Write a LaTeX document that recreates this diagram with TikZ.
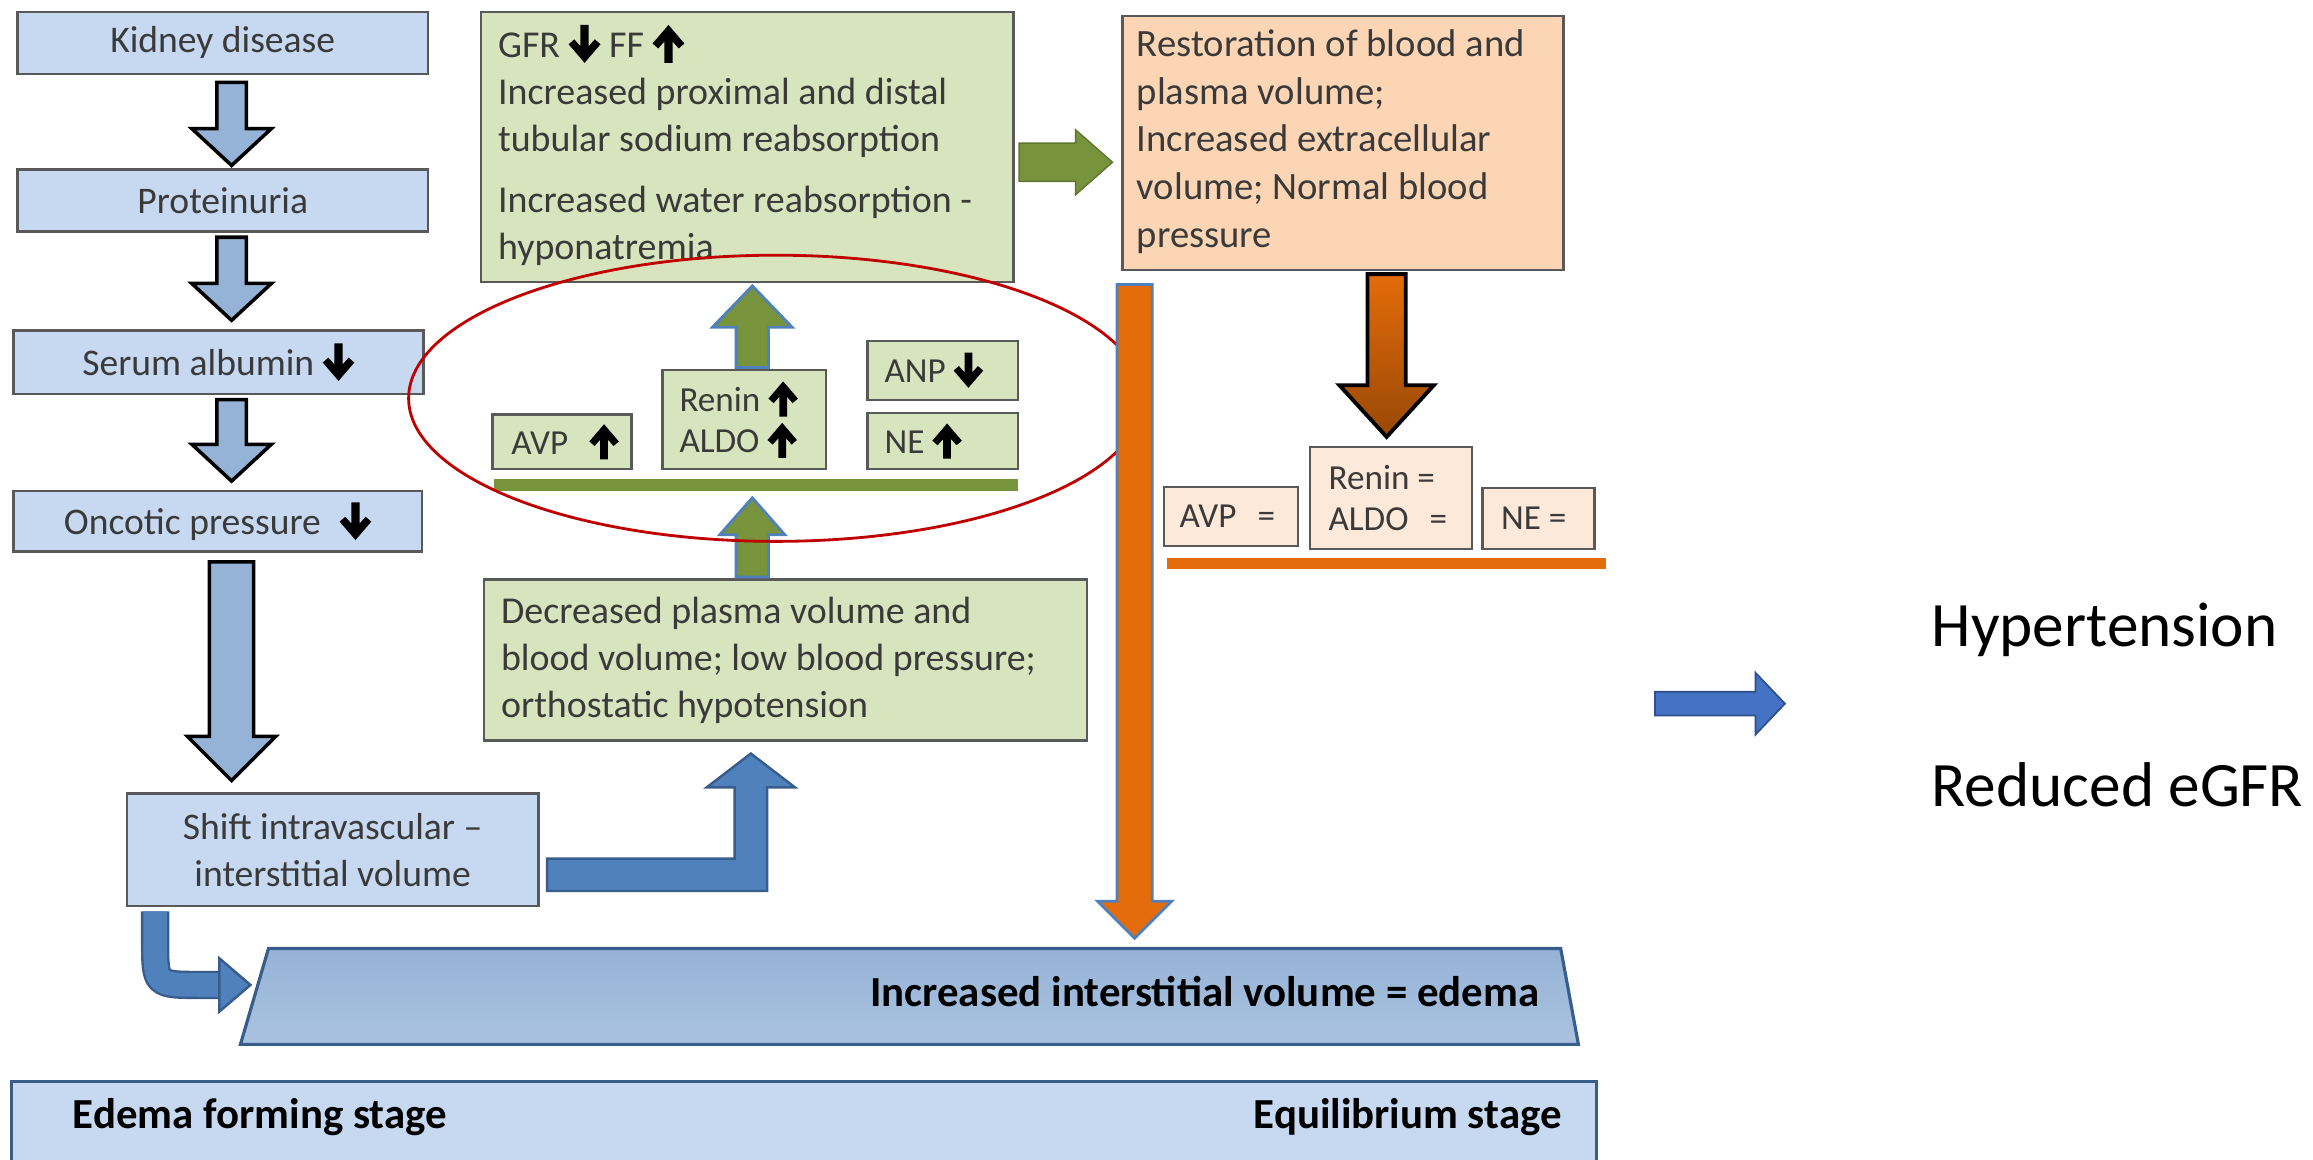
\documentclass[tikz,border=0pt]{standalone}
\usepackage{fontspec}
\setmainfont{Carlito}
\usepackage{tikz}
\usetikzlibrary{calc}
\definecolor{boxblue}{HTML}{C6D9F1}
\definecolor{arrblue}{HTML}{95B3D7}
\definecolor{midblue}{HTML}{4F81BD}
\definecolor{darkblue}{HTML}{385D8A}
\definecolor{boxgreen}{HTML}{D7E4BD}
\definecolor{olivegr}{HTML}{77933C}
\definecolor{peach}{HTML}{FCD5B5}
\definecolor{lightpeach}{HTML}{FDE9D9}
\definecolor{orng}{HTML}{E46C0A}
\definecolor{brwn}{HTML}{984807}
\definecolor{boxline}{HTML}{595959}
\definecolor{txtgray}{HTML}{3A3A3A}
\definecolor{ellred}{HTML}{C00000}
\definecolor{rightblue}{HTML}{4472C4}
\def\pxu{0.01475cm}
%% bold up / down arrows in the texts
\newcommand{\arrup}{\tikz[baseline=0pt,x=1em,y=1em]\fill[black] (-0.11,-0.15) -- (0.11,-0.15) -- (0.11,0.41) -- (0.27,0.23) -- (0.42,0.36) -- (0,0.85) -- (-0.42,0.36) -- (-0.27,0.23) -- (-0.11,0.41) -- cycle;}
\newcommand{\arrdn}{\tikz[baseline=0pt,x=1em,y=1em]\fill[black] (-0.11,0.85) -- (0.11,0.85) -- (0.11,0.29) -- (0.27,0.47) -- (0.42,0.34) -- (0,-0.15) -- (-0.42,0.34) -- (-0.27,0.47) -- (-0.11,0.29) -- cycle;}
%% block arrows: style, from, to, half shaft, half head, head offset
\newcommand{\vblock}[6]{%
  \draw[#1] ($(#2)+(-#4,0)$) -- ($(#2)+(#4,0)$)
    -- ($(#2 |- #3)+(#4,#6)$) -- ($(#2 |- #3)+(#5,#6)$) -- (#2 |- #3)
    -- ($(#2 |- #3)+(-#5,#6)$) -- ($(#2 |- #3)+(-#4,#6)$) -- cycle;}
\newcommand{\hblock}[6]{%
  \draw[#1] ($(#2)+(0,-#4)$) -- ($(#2 -| #3)+(#6,-#4)$) -- ($(#2 -| #3)+(#6,-#5)$) -- (#2 -| #3)
    -- ($(#2 -| #3)+(#6,#5)$) -- ($(#2 -| #3)+(#6,#4)$) -- ($(#2)+(0,#4)$) -- cycle;}
\tikzset{
  boxsize/.style 2 args={minimum width=#1*\pxu, minimum height=#2*\pxu},
  lbox/.style={draw=boxline, line width=0.7pt, fill=boxblue, inner sep=0pt, text=txtgray, font=\fontsize{10.7}{13.4}\selectfont},
  gbox/.style={draw=boxline, line width=0.7pt, fill=boxgreen, inner sep=0pt},
  pbox/.style={draw=boxline, line width=0.7pt, fill=peach, inner sep=0pt},
  sbox/.style={draw=boxline, line width=0.7pt, fill=lightpeach, inner sep=0pt},
  txt/.style={inner sep=0pt, align=left, text=txtgray, font=\fontsize{10.8}{13.4}\selectfont},
  stxt/.style={inner sep=0pt, align=left, text=txtgray, font=\fontsize{10}{11.8}\selectfont},
  boldtxt/.style={inner sep=0pt, text=black, font=\bfseries\fontsize{12.2}{14}\selectfont},
  bigtxt/.style={inner sep=0pt, text=black, font=\fontsize{18}{20}\selectfont},
  barrow/.style={fill=arrblue, draw=black, line width=1pt},
  garrow/.style={fill=olivegr, draw=midblue, line width=0.8pt},
  grarrow/.style={fill=olivegr, draw=olivegr!80!black, line width=0.4pt},
  blarrow/.style={fill=midblue, draw=darkblue, line width=0.7pt},
  oarrow/.style={fill=orng, draw=midblue, line width=0.8pt},
  brarrow/.style={top color=orng, bottom color=brwn, draw=black, line width=1.1pt},
  rarrow/.style={fill=rightblue, draw=rightblue!70!black, line width=0.5pt},
}
\begin{document}
\begin{tikzpicture}[x=0.01475cm, y=-0.01475cm]
        \useasboundingbox (0,0) rectangle (1568,786);
        %%Left column
        \node[lbox, boxsize={278}{42}] (kid) at (151,29) {Kidney disease};
        \node[lbox, boxsize={278}{42}] (prot) at (151,136) {Proteinuria};
        \node[lbox, boxsize={278}{43}] (alb) at (148,245.5) {Serum albumin \arrdn};
        \node[lbox, boxsize={277}{41}] (onc) at (147.5,353.5) {Oncotic pressure\hspace{0.5em}\arrdn};
        \node[lbox, boxsize={279}{76}, align=center] (shift) at (225.5,576) {Shift intravascular --\\interstitial volume};
        \coordinate (a1s) at ($(kid.south)+(6,5)$);
        \coordinate (a1e) at ($(prot.north)+(6,-2)$);
        \coordinate (a2s) at ($(prot.south)+(6,3)$);
        \coordinate (a2e) at ($(alb.north)+(9,-6)$);
        \coordinate (a3s) at ($(alb.south)+(9,3)$);
        \coordinate (a3e) at ($(onc.north)+(9.5,-6)$);
        \coordinate (a4s) at ($(onc.south)+(9.5,6)$);
        \coordinate (a4e) at ($(shift.north)+(-68.5,-8)$);
        \vblock{barrow}{a1s}{a1e}{10}{27}{-25}
        \vblock{barrow}{a2s}{a2e}{10}{27}{-25}
        \vblock{barrow}{a3s}{a3e}{10}{27}{-25}
        \vblock{barrow}{a4s}{a4e}{15}{30}{-30}
        %%Edema
        \coordinate (tzA) at (182,643);
        \coordinate (tzB) at (1058,643);
        \coordinate (tzC) at (1070,708);
        \coordinate (tzD) at (163,708);
        \draw[top color=arrblue, bottom color=arrblue!80!white, draw=darkblue, line width=0.9pt]
        (tzA) -- (tzB) -- (tzC) -- (tzD) -- cycle;
        \node[boldtxt, anchor=east] (edema) at (1044,672) {Increased interstitial volume = edema};
        \node[draw=darkblue, line width=0.9pt, fill=boxblue, boxsize={1074}{60}, inner sep=0pt] (stage) at (545,763) {};
        \node[boldtxt, anchor=west] (formtxt) at ($(stage.west)+(42,-6)$) {Edema forming stage};
        \node[boldtxt, anchor=east] (eqtxt) at ($(stage.east)+(-24,-6)$) {Equilibrium stage};
        %%Shift arrows
        \coordinate (cs) at ($(shift.south west)+(20,3)$);
        \coordinate (ce) at ($(tzA)!0.38!(tzD)+(-5,0)$);
        \draw[draw=darkblue, double=midblue, double distance=16*\pxu, line width=1.6*\pxu]
        (cs) -- ($(cs)+(0,20)$) .. controls ($(cs |- ce)$) .. ($(cs |- ce)+(31,0)$) -- ($(ce)+(-19,0)$);
        \draw[blarrow] ($(ce)+(-21,-18)$) -- (ce) -- ($(ce)+(-21,18)$) -- cycle;
        \node[gbox, boxsize={409}{109}] (dec) at (532.5,447.5) {};
        \node[txt, anchor=west] (dectxt) at ($(dec.west)+(12,0)$) {Decreased plasma volume and\\blood volume; low blood pressure;\\orthostatic hypotension};
        \coordinate (ls) at ($(shift.east)+(5,17)$);
        \coordinate (le) at ($(dec.south)+(-23.5,8)$);
        \draw[blarrow] ($(ls)+(0,-11)$) -- ($(ls -| le)+(-11,-11)$) -- ($(le)+(-11,23)$) -- ($(le)+(-30,23)$)
        -- (le) -- ($(le)+(30,23)$) -- ($(le)+(11,23)$) -- ($(ls -| le)+(11,11)$) -- ($(ls)+(0,11)$) -- cycle;
        %%Hormones
        \node[gbox, boxsize={361}{183}] (gfr) at (506.5,99.5) {};
        \node[txt, anchor=west] (gfrtxt) at ($(gfr.west)+(12,-1)$) {GFR \arrdn\ FF \arrup\\Increased proximal and distal\\tubular sodium reabsorption\\[4pt]Increased water reabsorption -\\hyponatremia};
        \node[gbox, boxsize={94}{37}] (avp) at (381,299.5) {};
        \node[stxt, anchor=west] (avptxt) at ($(avp.west)+(13,0)$) {AVP\hspace{0.6em}\arrup};
        \node[gbox, boxsize={111}{67}] (renin) at (504.5,284.5) {};
        \node[stxt, anchor=west] (renintxt) at ($(renin.west)+(12,0)$) {Renin \arrup\\ALDO \arrup};
        \node[gbox, boxsize={102}{40}] (anp) at (639,251) {};
        \node[stxt, anchor=west] (anptxt) at ($(anp.west)+(12,0)$) {ANP \arrdn};
        \node[gbox, boxsize={102}{38}] (ne) at (639,299) {};
        \node[stxt, anchor=west] (netxt) at ($(ne.west)+(12,0)$) {NE \arrup};
        \node[fill=olivegr, boxsize={355}{8}, inner sep=0pt] (gbar) at (512.5,329) {};
        \coordinate (g1s) at ($(renin.north)+(5.5,-1)$);
        \coordinate (g1e) at ($(gfr.south)+(3.5,2)$);
        \coordinate (g2s) at ($(dec.north)+(-22.5,-1)$);
        \coordinate (g2e) at ($(gbar.south)+(-2.5,4)$);
        \vblock{garrow}{g1s}{g1e}{11}{27}{28}
        \vblock{garrow}{g2s}{g2e}{11}{22}{25}
        \draw[ellred, line width=0.8pt] (526,270) ellipse [x radius=249, y radius=97];
        %%Equilibrium
        \node[pbox, boxsize={299}{172}] (rest) at (910.5,97) {};
        \node[txt, anchor=west, font=\fontsize{11}{13.6}\selectfont] (resttxt) at ($(rest.west)+(10,-1)$) {Restoration of blood and\\plasma volume;\\Increased extracellular\\volume; Normal blood\\pressure};
        \coordinate (g3s) at ($(gfr.east)+(3,10.5)$);
        \coordinate (g3e) at ($(rest.west)+(-6,13)$);
        \hblock{grarrow}{g3s}{g3e}{13}{22}{-25}
        \node[sbox, boxsize={91}{40}] (avpr) at (834.5,350) {};
        \node[stxt, anchor=west] (avprtxt) at ($(avpr.west)+(11,0)$) {AVP\hspace{0.6em}=};
        \node[sbox, boxsize={110}{69}] (reninr) at (943,337.5) {};
        \node[stxt, anchor=west] (reninrtxt) at ($(reninr.west)+(13,0)$) {Renin =\\ALDO\hspace{0.6em}=};
        \node[sbox, boxsize={76}{41}] (ner) at (1043,351.5) {};
        \node[stxt, anchor=west] (nertxt) at ($(ner.west)+(13,0)$) {NE =};
        \node[fill=orng, boxsize={298}{8}, inner sep=0pt] (obar) at (940,382) {};
        \coordinate (o1s) at ($(rest.south west)+(9,9)$);
        \coordinate (o1e) at ($(o1s |- tzA)+(0,-7)$);
        \coordinate (o2s) at ($(rest.south)+(29.5,2)$);
        \coordinate (o2e) at ($(reninr.north)+(-3,-6)$);
        \vblock{oarrow}{o1s}{o1e}{12}{25}{-25}
        \vblock{brarrow}{o2s}{o2e}{13}{32}{-35}
        %%Outcome
        \coordinate (rs) at (1122,477);
        \coordinate (re) at (1210,477);
        \hblock{rarrow}{rs}{re}{8}{21}{-20}
        \node[bigtxt, anchor=west] (hyp) at (1309,427) {Hypertension};
        \node[bigtxt, anchor=west] (egfr) at (1309,532) {Reduced eGFR};
    \end{tikzpicture}
\end{document}
